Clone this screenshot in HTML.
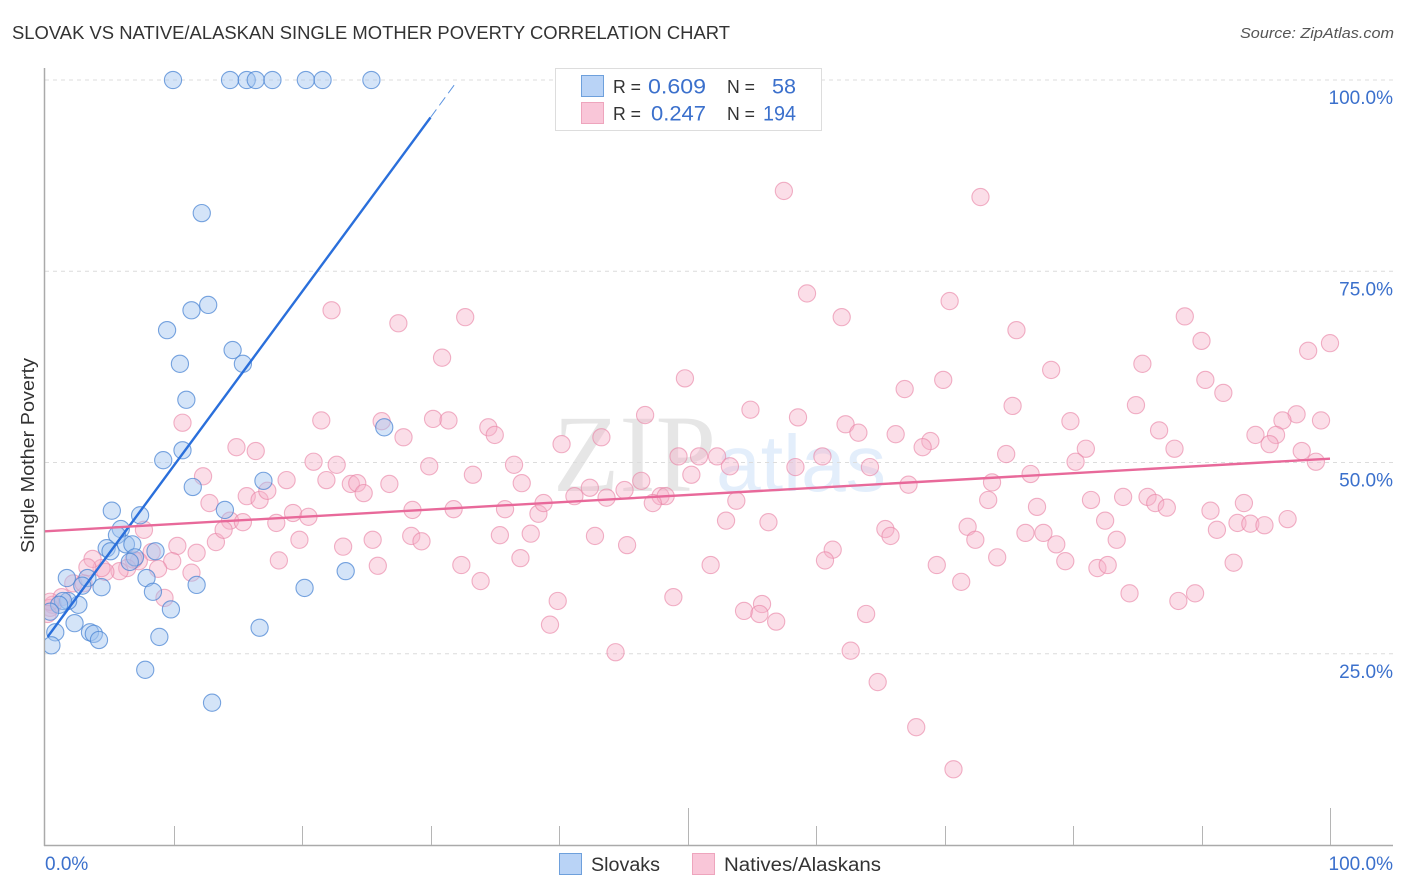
<!DOCTYPE html>
<html lang="en">
<head>
<meta charset="utf-8">
<title>Slovak vs Native/Alaskan Single Mother Poverty Correlation Chart</title>
<style>
html,body{margin:0;padding:0;background:#fff;}
body{width:1406px;height:892px;overflow:hidden;}
svg{display:block;font-family:"Liberation Sans",sans-serif;}
</style>
</head>
<body>
<svg id="chart" xmlns="http://www.w3.org/2000/svg" width="1406" height="892" viewBox="0 0 1406 892">
  <defs>
    <clipPath id="plot-clip"><rect x="45" y="60" width="1350" height="785"/></clipPath>
  </defs>
  <rect x="0" y="0" width="1406" height="892" fill="#ffffff"/>
  <text x="12" y="39" font-size="18.5" fill="#333333" textLength="718" lengthAdjust="spacingAndGlyphs">SLOVAK VS NATIVE/ALASKAN SINGLE MOTHER POVERTY CORRELATION CHART</text>
  <text x="1394" y="38" font-size="15" font-style="italic" fill="#555555" text-anchor="end" textLength="154" lengthAdjust="spacingAndGlyphs">Source: ZipAtlas.com</text>
  <g>
    <text x="553" y="491" font-family="'Liberation Serif',serif" font-size="110" fill="#e6e6e6" textLength="163" lengthAdjust="spacingAndGlyphs">ZIP</text>
    <text x="716" y="491" font-size="80" fill="#e3eefb" textLength="170" lengthAdjust="spacingAndGlyphs">atlas</text>
  </g>
  <g id="grid"></g>
  <g id="axes"></g>
  <g id="points" clip-path="url(#plot-clip)"></g>
  <g id="lines"></g>
  <g id="labels"></g>
  <text x="0" y="0" transform="translate(34,553) rotate(-90)" font-size="18.5" fill="#333333" textLength="195" lengthAdjust="spacingAndGlyphs">Single Mother Poverty</text>

  <g>
    <rect x="555.5" y="68.5" width="266" height="62" fill="#ffffff" stroke="#dddddd" stroke-width="1"/>
    <rect x="581.5" y="75.5" width="22" height="21" fill="#b9d3f6" stroke="#6ea0dc" stroke-width="1"/>
    <rect x="581.5" y="102.5" width="22" height="21" fill="#f9c6d8" stroke="#eea5bd" stroke-width="1"/>
    <text x="613" y="93" font-size="18.5" fill="#333333" textLength="28" lengthAdjust="spacingAndGlyphs">R =</text>
    <text x="648" y="93.5" font-size="21" fill="#3b70cc" textLength="58" lengthAdjust="spacingAndGlyphs">0.609</text>
    <text x="727" y="93" font-size="18.5" fill="#333333" textLength="28" lengthAdjust="spacingAndGlyphs">N =</text>
    <text x="796" y="93.5" font-size="21" fill="#3b70cc" text-anchor="end" textLength="24" lengthAdjust="spacingAndGlyphs">58</text>
    <text x="613" y="120" font-size="18.5" fill="#333333" textLength="28" lengthAdjust="spacingAndGlyphs">R =</text>
    <text x="651" y="120.5" font-size="21" fill="#3b70cc" textLength="55" lengthAdjust="spacingAndGlyphs">0.247</text>
    <text x="727" y="120" font-size="18.5" fill="#333333" textLength="28" lengthAdjust="spacingAndGlyphs">N =</text>
    <text x="796" y="120.5" font-size="21" fill="#3b70cc" text-anchor="end" textLength="33" lengthAdjust="spacingAndGlyphs">194</text>
  </g>

  <g>
    <rect x="559.5" y="853.5" width="22" height="21" fill="#b9d3f6" stroke="#6ea0dc" stroke-width="1"/>
    <text x="591" y="871" font-size="19" fill="#333333" textLength="69" lengthAdjust="spacingAndGlyphs">Slovaks</text>
    <rect x="692.5" y="853.5" width="22" height="21" fill="#f9c6d8" stroke="#eea5bd" stroke-width="1"/>
    <text x="724" y="871" font-size="19" fill="#333333" textLength="157" lengthAdjust="spacingAndGlyphs">Natives/Alaskans</text>
  </g>
</svg>
<script>
const xTickValues = [0, 10, 20, 30, 40, 50, 60, 70, 80, 90, 100];
const majorXTicks = [50, 100];
const yGridValues = [25, 50, 75, 100];
const yTickLabels = ["25.0%", "50.0%", "75.0%", "100.0%"];
const xEndLabels = ["0.0%", "100.0%"];

const slovakX = [9.96,14.4,15.7,16.4,17.7,20.3,21.6,25.4,12.2,12.7,11.4,9.5,14.6,15.4,10.5,11.0,10.7,9.2,11.5,17.0,14.0,26.4,5.2,7.4,5.9,5.6,4.8,5.1,6.3,6.8,8.6,7.0,6.6,7.9,8.4,11.8,20.2,23.4,9.8,4.4,3.3,1.7,2.9,2.6,1.8,1.4,1.1,0.8,2.3,3.5,3.8,4.2,0.5,8.9,16.7,7.8,13.0,0.4];
const slovakY = [100,100,100,100,100,100,100,100,82.6,70.6,69.9,67.3,64.7,62.9,62.9,58.2,51.6,50.3,46.8,47.6,43.8,54.6,43.7,43.1,41.3,40.5,38.8,38.4,39.3,39.3,38.4,37.6,37.0,34.9,33.1,34.0,33.6,35.8,30.8,33.7,34.9,34.9,33.9,31.4,31.9,31.9,31.4,27.8,29.0,27.8,27.6,26.8,26.1,27.2,28.4,22.9,18.6,30.5];

const nativeX = [57.5,72.8,59.3,70.4,22.3,32.7,27.5,62.0,88.7,75.6,90.0,30.9,98.3,100,85.4,78.3,49.8,69.9,90.3,66.9,91.7,54.9,75.3,84.9,97.4,99.3,46.7,58.6,79.8,96.3,21.5,26.2,30.2,31.4,10.7,62.3,63.3,66.2,68.9,68.3,86.7,94.2,95.8,95.3,34.5,35.0,27.9,43.3,40.2,14.9,16.4,81.0,87.9,97.8,74.8,49.3,50.9,52.3,60.5,53.3,58.4,64.2,80.2,98.9,20.9,22.7,29.9,36.5,33.3,12.3,18.8,21.9,23.8,24.3,26.8,24.8,37.1,46.4,50.3,76.7,73.7,67.2,45.1,42.4,41.2,43.7,47.9,48.3,47.3,12.8,15.7,16.7,17.3,53.8,73.4,81.4,83.9,85.8,86.4,87.3,77.2,93.3,90.7,28.6,31.8,35.8,38.4,38.8,19.3,20.5,14.4,15.4,18.0,53.0,56.3,82.5,96.7,65.4,65.8,71.8,72.4,76.3,77.7,78.7,83.4,92.8,93.8,94.9,91.2,28.5,29.3,35.4,37.8,42.8,45.3,23.2,25.5,19.8,13.3,13.9,10.3,7.7,11.8,8.3,61.3,60.7,18.2,25.9,37.0,32.4,33.9,51.8,69.4,74.1,79.4,81.9,82.7,92.5,71.3,11.4,9.9,8.8,7.3,6.9,6.4,5.8,4.7,4.4,3.7,3.3,2.2,3.0,1.3,0.6,0.4,0.4,0.2,39.9,48.9,9.3,54.4,55.8,55.6,56.9,63.9,84.4,88.2,89.5,39.3,44.4,62.7,64.8,67.8,70.7];
const nativeY = [85.5,84.7,72.1,71.1,69.9,69.0,68.2,69.0,69.1,67.3,65.9,63.7,64.6,65.6,62.9,62.1,61.0,60.8,60.8,59.6,59.1,56.9,57.4,57.5,56.3,55.5,56.2,55.9,55.4,55.5,55.5,55.4,55.7,55.5,55.2,55.0,53.9,53.7,52.8,52.0,54.2,53.6,53.6,52.4,54.6,53.6,53.3,53.3,52.4,52.0,51.5,51.8,51.8,51.5,51.1,50.8,50.8,50.8,50.8,49.5,49.4,49.4,50.1,50.1,50.1,49.7,49.5,49.7,48.4,48.2,47.7,47.7,47.2,47.3,47.2,46.0,47.3,47.6,48.4,48.5,47.4,47.1,46.4,46.7,45.6,45.4,45.6,45.6,44.7,44.7,45.6,45.1,46.3,45.0,45.1,45.1,45.5,45.5,44.7,44.1,44.2,44.7,43.7,43.8,43.9,43.9,43.3,44.7,43.4,42.9,42.4,42.2,42.1,42.4,42.2,42.4,42.6,41.3,40.4,41.6,39.9,40.8,40.8,39.3,39.9,42.1,42.0,41.8,41.2,40.4,39.7,40.5,40.7,40.4,39.2,39.0,39.9,39.9,39.6,41.2,39.1,41.2,38.2,38.3,38.6,37.2,37.2,36.5,37.5,36.6,34.5,36.6,36.6,37.6,37.1,36.2,36.6,36.9,34.4,35.6,37.1,36.1,37.1,37.3,36.2,35.8,35.7,36.2,37.4,36.3,34.2,34.2,32.4,31.4,31.0,31.8,30.2,31.9,32.4,32.3,30.6,31.5,30.2,29.2,30.2,32.9,31.9,32.9,28.8,25.2,25.4,21.3,15.4,9.9];

const slovakTrendX = [0.2, 30];
const slovakTrendY = [27.2, 95.1];
const slovakDashX = [30, 32];
const slovakDashY = [95.1, 99.7];
const nativeTrendX = [0, 100];
const nativeTrendY = [41.0, 50.5];

const NS = 'http://www.w3.org/2000/svg';
function xScale(v) { return 45 + v * 12.85; }
function yScale(v) { return 845 - v * 7.65; }
function make(parent, tag, attrs) {
  const el = document.createElementNS(NS, tag);
  for (const k in attrs) el.setAttribute(k, attrs[k]);
  parent.appendChild(el);
  return el;
}

const gridG = document.getElementById('grid');
yGridValues.forEach(function (v) {
  const el = make(gridG, 'line', {x1: 45, x2: 1393, y1: yScale(v), y2: yScale(v), stroke: '#dcdcdc', 'stroke-width': 1, 'stroke-dasharray': '4 4'});
  
  
});

const axesG = document.getElementById('axes');
const yAxis = make(axesG, 'line', {x1: 44.5, x2: 44.5, y1: 68, y2: 846, stroke: '#aaaaaa', 'stroke-width': 1.5});


const xAxis = make(axesG, 'line', {x1: 44, x2: 1393, y1: 845.5, y2: 845.5, stroke: '#aaaaaa', 'stroke-width': 1.5});


xTickValues.forEach(function (v) {
  if (v === 0) return;
  const top = majorXTicks.indexOf(v) >= 0 ? 808 : 826;
  const px = Math.round(xScale(v)) + 0.5;
  const el = make(axesG, 'line', {x1: px, x2: px, y1: top, y2: 845, stroke: '#b5b5b5', 'stroke-width': 1});
  
  
});

const pointsG = document.getElementById('points');
nativeX.forEach(function (v, i) {
  const el = make(pointsG, 'circle', {cx: xScale(v), cy: yScale(nativeY[i]), r: 8.6, fill: 'rgba(246,176,200,0.42)', stroke: 'rgba(232,130,165,0.62)', 'stroke-width': 1.1});
  
  
});
slovakX.forEach(function (v, i) {
  const el = make(pointsG, 'circle', {cx: xScale(v), cy: yScale(slovakY[i]), r: 8.6, fill: 'rgba(160,196,240,0.45)', stroke: 'rgba(70,130,210,0.72)', 'stroke-width': 1.1});
  
  
});

const linesG = document.getElementById('lines');
const blueLine = make(linesG, 'line', {x1: xScale(slovakTrendX[0]), y1: yScale(slovakTrendY[0]), x2: xScale(slovakTrendX[1]), y2: yScale(slovakTrendY[1]), stroke: '#2a6fdb', 'stroke-width': 2.4});


const blueDash = make(linesG, 'line', {x1: xScale(slovakDashX[0]), y1: yScale(slovakDashY[0]), x2: xScale(slovakDashX[1]), y2: yScale(slovakDashY[1]), stroke: '#5b93e0', 'stroke-width': 1, 'stroke-dasharray': '10 5'});


const pinkLine = make(linesG, 'line', {x1: xScale(nativeTrendX[0]), y1: yScale(nativeTrendY[0]), x2: xScale(nativeTrendX[1]), y2: yScale(nativeTrendY[1]), stroke: '#e8699a', 'stroke-width': 2.4});



const labelsG = document.getElementById('labels');
yTickLabels.forEach(function (t, i) {
  const el = make(labelsG, 'text', {x: 1393, y: yScale(yGridValues[i]) + 24, 'font-size': 19, fill: '#3b70cc', 'text-anchor': 'end'});
  el.textContent = t;
  
  
});
const xLabel0 = make(labelsG, 'text', {x: 45, y: 870, 'font-size': 19, fill: '#3b70cc'});
xLabel0.textContent = xEndLabels[0];


const xLabel1 = make(labelsG, 'text', {x: 1393, y: 870, 'font-size': 19, fill: '#3b70cc', 'text-anchor': 'end'});
xLabel1.textContent = xEndLabels[1];


</script>
</body>
</html>
